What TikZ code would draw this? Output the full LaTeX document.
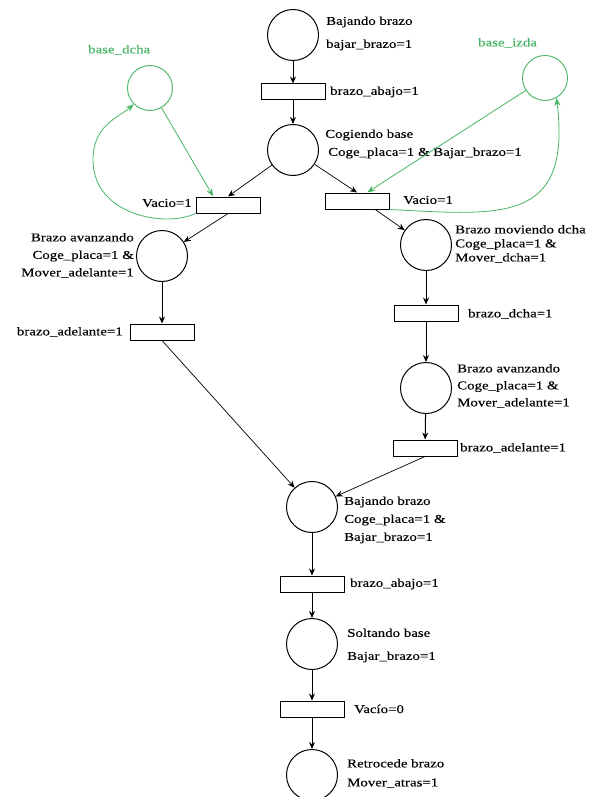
\documentclass[tikz,border=0pt]{standalone}
\usepackage{fontspec}
\setmainfont{Liberation Serif}[FakeStretch=1.24,FakeBold=0.2]
\usetikzlibrary{arrows.meta}
\definecolor{netgreen}{RGB}{70,180,100}
\begin{document}
\begin{tikzpicture}[x=1pt,y=-1pt,
  place/.style={circle,draw,line width=1pt,minimum size=51pt,inner sep=0pt},
  gplace/.style={circle,draw=netgreen,line width=0.9pt,minimum size=45pt,inner sep=0pt},
  trans/.style={rectangle,draw,line width=1pt,minimum width=64pt,minimum height=16pt,inner sep=0pt},
  lbl/.style={font=\fontsize{12}{#1}\selectfont,inner sep=0pt},
  lbl/.default=14,
  glbl/.style={lbl,text=netgreen},
  arc/.style={-{Stealth[length=7pt,width=6pt]},line width=1pt},
  thin arc/.style={-{Stealth[length=7pt,width=6pt]},line width=0.7pt},
  garc/.style={-{Stealth[length=8pt,width=6pt]},draw=netgreen,line width=0.8pt},
]
\useasboundingbox (0,0) rectangle (592,797);

% places and transitions of the net
\node[place] (p1) at (293,35) {};
\node[trans] (t1) at (293,92) {};
\node[place] (p2) at (293,150) {};
\node[gplace] (bd) at (150,88) {};
\node[gplace] (bi) at (545,78) {};
\node[trans] (tl) at (228,205) {};
\node[trans] (tr) at (357,201) {};
\node[place] (pl) at (162,256) {};
\node[trans] (tl2) at (162,332) {};
\node[place] (pr1) at (426,245) {};
\node[trans] (tr1) at (426,313) {};
\node[place] (pr2) at (426,388) {};
\node[trans] (tr2) at (425,448) {};
\node[place] (pm) at (312,507) {};
\node[trans] (tm) at (312,584) {};
\node[place] (ps) at (312,644) {};
\node[trans] (tv) at (312,709) {};
\node[place] (pb) at (312,775) {};

% labels
\node[lbl=23,anchor=west,align=left] (p1l) at (326,33.5) {Bajando brazo\\bajar\_brazo=1};
\node[lbl,anchor=west] (t1l) at (330,92) {brazo\_abajo=1};
\node[lbl=18,anchor=west,align=left] (p2l) at (325,144) {Cogiendo base\\\hspace{3pt}Coge\_placa=1 \& Bajar\_brazo=1};
\node[glbl,anchor=west] (bdl) at (88,50) {base\_dcha};
\node[glbl,anchor=west] (bil) at (478,43) {base\_izda};
\node[lbl,anchor=east] (tll) at (192,203) {Vacio=1};
\node[lbl,anchor=west] (trl) at (403,200) {Vacio=1};
\node[lbl=17.5,anchor=east,align=right] (pll) at (134,255.5) {Brazo avanzando\\Coge\_placa=1 \&\\Mover\_adelante=1};
\node[lbl,anchor=east] (tl2l) at (123,332) {brazo\_adelante=1};
\node[lbl=14,anchor=west,align=left] (pr1l) at (455,244) {Brazo moviendo dcha\\Coge\_placa=1 \&\\Mover\_dcha=1};
\node[lbl,anchor=west] (tr1l) at (468,314) {brazo\_dcha=1};
\node[lbl=17,anchor=west,align=left] (pr2l) at (457,386) {Brazo avanzando\\Coge\_placa=1 \&\\Mover\_adelante=1};
\node[lbl,anchor=west] (tr2l) at (460,448) {brazo\_adelante=1};
\node[lbl=18,anchor=west,align=left] (pml) at (344,520) {Bajando brazo\\Coge\_placa=1 \&\\Bajar\_brazo=1};
\node[lbl,anchor=west] (tml) at (350,584) {brazo\_abajo=1};
\node[lbl=23,anchor=west,align=left] (psl) at (347,645.5) {Soltando base\\Bajar\_brazo=1};
\node[lbl,anchor=west] (tvl) at (354,709) {Vacío=0};
\node[lbl=19,anchor=west,align=left] (pbl) at (347,773.5) {Retrocede brazo\\Mover\_atras=1};

% black arcs
\draw[arc] (p1) -- (t1);
\draw[arc] (t1) -- (p2);
\draw[thin arc] (p2) -- (tl.north);
\draw[thin arc] (p2) -- (tr.north);
\draw[thin arc] (tl.south) -- (pl);
\draw[thin arc] (tr.-25) -- (pr1);
\draw[arc] (pl) -- (tl2);
\draw[thin arc] (tl2.south) -- (pm);
\draw[arc] (pr1) -- (tr1);
\draw[arc] (tr1) -- (pr2);
\draw[arc] (pr2) -- (tr2);
\draw[thin arc] (tr2.south) -- (pm);
\draw[arc] (pm) -- (tm);
\draw[arc] (tm) -- (ps);
\draw[arc] (ps) -- (tv);
\draw[arc] (tv) -- (pb);

% green arcs to and from the base places
\draw[garc] (bd) -- (tl.150);
\draw[garc] (tl.south west) .. controls (165,228) and (93,215) .. (93,160)
  .. controls (93,125) and (118,118) .. (bd.225);
\draw[garc] (bi) -- (tr.40);
\draw[garc] (tr.south east) .. controls (500,215) and (572,225) .. (bi.-60);
\end{tikzpicture}
\end{document}
